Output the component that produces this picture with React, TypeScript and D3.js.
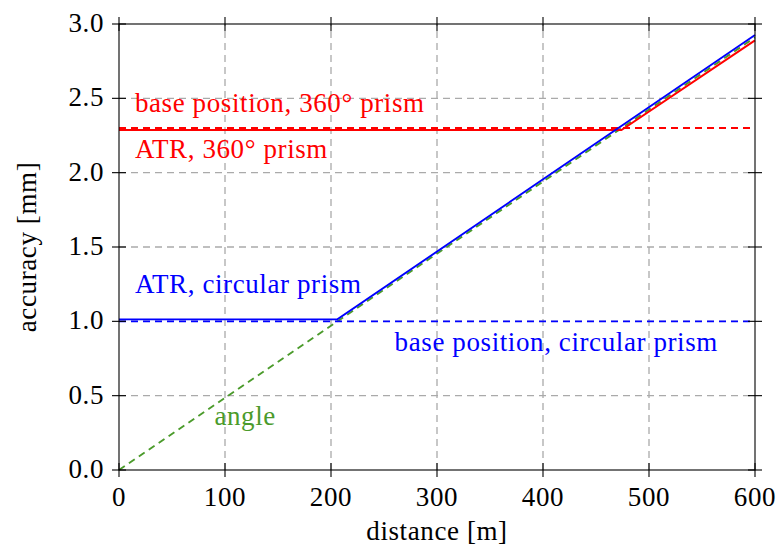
import { useEffect, useRef } from "react"
import * as d3 from "d3"

// values: [distance m, accuracy mm]
const xTicks = [0, 100, 200, 300, 400, 500, 600]
const yTicks = [0, 0.5, 1.0, 1.5, 2.0, 2.5, 3.0]

const angle = [[0, 0], [600, 2.91]]
const baseCircular = [[0, 1.0], [600, 1.0]]
const atrCircular = [[0, 1.013], [206, 1.013], [600, 2.926]]
const base360 = [[0, 2.3], [600, 2.3]]
const atr360 = [[0, 2.287], [474, 2.287], [600, 2.89]]

const GREEN = "#4b9b2b"

const series = [
  { name: "angle", data: angle, color: GREEN, dash: "7,5" },
  { name: "base circular", data: baseCircular, color: "#0000ff", dash: "7,5" },
  { name: "base 360", data: base360, color: "#ff0000", dash: "7,5" },
  { name: "ATR 360", data: atr360, color: "#ff0000", dash: null },
  { name: "ATR circular", data: atrCircular, color: "#0000ff", dash: null },
]

// text labels: [distance, accuracy] anchor
const labels = [
  { text: "base position, 360° prism", at: [15, 2.41], color: "#ff0000" },
  { text: "ATR, 360° prism", at: [15, 2.1], color: "#ff0000" },
  { text: "ATR, circular prism", at: [15, 1.19], color: "#0000ff" },
  { text: "base position, circular prism", at: [260, 0.8], color: "#0000ff" },
  { text: "angle", at: [90, 0.3], color: GREEN },
]

export default function App() {
  const svgRef = useRef<SVGSVGElement>(null)

  useEffect(() => {
    const width = 777
    const height = 547
    const margin = { top: 24, right: 22, bottom: 77, left: 119 }
    const font = "Liberation Serif, DejaVu Serif, serif"

    const svg = d3.select(svgRef.current)
    svg.selectAll("*").remove()
    svg.attr("width", width).attr("height", height)

    const x = d3.scaleLinear().domain([0, 600]).range([margin.left, width - margin.right])
    const y = d3.scaleLinear().domain([0, 3]).range([height - margin.bottom, margin.top])

    const x0 = x(0), x1 = x(600), y0 = y(0), y1 = y(3)

    svg.append("rect").attr("width", width).attr("height", height).attr("fill", "#fff")

    // grid
    const grid = svg.append("g").attr("stroke", "#aaaaaa").attr("stroke-width", 1.3)
      .attr("stroke-dasharray", "7,5")
    grid.selectAll("line.gx").data(xTicks.slice(1, -1)).join("line")
      .attr("x1", d => x(d)).attr("x2", d => x(d)).attr("y1", y0).attr("y2", y1)
    grid.selectAll("line.gy").data(yTicks.slice(1, -1)).join("line")
      .attr("class", "gy")
      .attr("x1", x0).attr("x2", x1).attr("y1", d => y(d)).attr("y2", d => y(d))

    // data lines
    const line = d3.line<number[]>().x(d => x(d[0])).y(d => y(d[1]))
    svg.append("g").selectAll("path").data(series).join("path")
      .attr("d", d => line(d.data))
      .attr("fill", "none")
      .attr("stroke", d => d.color)
      .attr("stroke-width", 1.9)
      .attr("stroke-dasharray", d => d.dash)

    // frame + ticks
    const axes = svg.append("g").attr("stroke", "#000").attr("stroke-width", 1.1)
    axes.append("rect").attr("x", x0).attr("y", y1).attr("width", x1 - x0).attr("height", y0 - y1)
      .attr("fill", "none")
    const t = 7
    xTicks.forEach(v => {
      axes.append("line").attr("x1", x(v)).attr("x2", x(v)).attr("y1", y0 - t).attr("y2", y0 + t)
      axes.append("line").attr("x1", x(v)).attr("x2", x(v)).attr("y1", y1 - t).attr("y2", y1 + t)
    })
    yTicks.forEach(v => {
      axes.append("line").attr("x1", x0 - t).attr("x2", x0 + t).attr("y1", y(v)).attr("y2", y(v))
      axes.append("line").attr("x1", x1 - t).attr("x2", x1 + t).attr("y1", y(v)).attr("y2", y(v))
    })

    // tick labels
    const txt = svg.append("g").style("font-family", font).style("font-size", "27px")
      .style("letter-spacing", "0.6px").attr("fill", "#000")
    txt.selectAll("text.xt").data(xTicks).join("text")
      .attr("x", d => x(d)).attr("y", y0 + 36)
      .attr("text-anchor", "middle")
      .text(d => d3.format("d")(d))
    txt.selectAll("text.yt").data(yTicks).join("text")
      .attr("class", "yt")
      .attr("x", x0 - 15).attr("y", d => y(d) + 8)
      .attr("text-anchor", "end")
      .text(d => d3.format(".1f")(d))

    txt.append("text").attr("x", (x0 + x1) / 2).attr("y", 540).attr("text-anchor", "middle")
      .text("distance [m]")
    txt.append("text").attr("transform", `translate(36,${(y0 + y1) / 2}) rotate(-90)`)
      .attr("text-anchor", "middle").text("accuracy [mm]")

    // series labels
    txt.selectAll("text.lab").data(labels).join("text")
      .attr("class", "lab")
      .attr("x", d => x(d.at[0])).attr("y", d => y(d.at[1]))
      .attr("fill", d => d.color)
      .text(d => d.text)
  }, [])

  return <svg ref={svgRef} style={{ position: "absolute", left: 0, top: 0, display: "block" }} />
}
